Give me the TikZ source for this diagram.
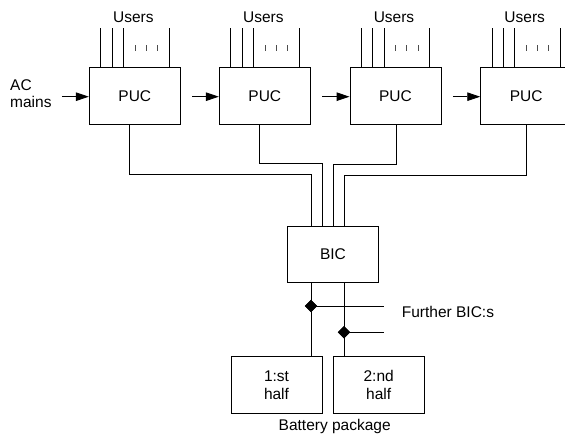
\documentclass[tikz,border=0pt]{standalone}
\usepackage{fontspec}
\setmainfont{Liberation Sans}
\usetikzlibrary{arrows.meta,shapes.geometric}
\begin{document}
\begin{tikzpicture}[x=1pt,y=-1pt,
  every node/.style={inner sep=0pt, font=\fontsize{15.5}{17.7}\selectfont},
  box/.style={draw, line width=0.9pt, minimum width=91pt, minimum height=56.6pt},
  wire/.style={line width=0.9pt},
  feed/.style={line width=0.9pt, -{Triangle[length=13pt,width=8.5pt]}},
  dia/.style={diamond, fill, inner sep=0pt, minimum width=12.5pt, minimum height=12.5pt},
  usertick/.style={line width=0.9pt, draw=black!70},
  lbl/.style={anchor=base}]
\useasboundingbox (0,0) rectangle (565,435);

% PUC boxes
\node[box] (puc1) at (134.8,96) {PUC};
\node[box] (puc2) at (264.8,96) {PUC};
\node[box] (puc3) at (395.5,96) {PUC};
\node[box] (puc4) at (526.2,96) {PUC};

% AC mains
\node[anchor=west, align=left] (ac) at (10,93.8) {AC\\mains};
\draw[feed] ([xshift=-27pt,yshift=-0.7pt]puc1.west) -- ([yshift=-0.7pt]puc1.west);
\draw[feed] ([xshift=11.4pt,yshift=-0.7pt]puc1.east) -- ([yshift=-0.7pt]puc2.west);
\draw[feed] ([xshift=11.4pt,yshift=-0.7pt]puc2.east) -- ([yshift=-0.7pt]puc3.west);
\draw[feed] ([xshift=11.4pt,yshift=-0.7pt]puc3.east) -- ([yshift=-0.7pt]puc4.west);

% Users
\foreach \p/\n in {puc1/u1,puc2/u2,puc3/u3,puc4/u4}{
  \foreach \dx in {-34.1,-22.8,-11.5,34.2}
    \draw[wire] ([xshift=\dx pt]\p.north) -- ++(0,-39.4);
  \foreach \dx in {0.2,11.2,22.5}
    \draw[usertick] ([xshift=\dx pt,yshift=16.7pt]\p.north) -- ++(0,-6);
  \node[lbl] (\n) at ([xshift=-1.5pt,yshift=45pt]\p.north) {Users};
}

% BIC
\node[box] (bic) at (333,254.3) {BIC};
\draw[wire] ([xshift=-5.5pt]puc1.south) -- ++(0,50) -| ([xshift=-22pt]bic.north);
\draw[wire] ([xshift=-5.5pt]puc2.south) -- ++(0,39) -| ([xshift=-11pt]bic.north);
\draw[wire] ([xshift=0.5pt]puc3.south) -- ++(0,39.7) -| ([xshift=0pt]bic.north);
\draw[wire] ([xshift=0.5pt]puc4.south) -- ++(0,50.7) -| ([xshift=11pt]bic.north);

% Battery
\node[box, align=center] (bat1) at (276.5,385) {1:st\\half};
\node[box, align=center] (bat2) at (378.7,385) {2:nd\\half};
\draw[wire] ([xshift=-22pt]bic.south) -- ([xshift=-22pt]bic.south |- bat1.north);
\draw[wire] ([xshift=11pt]bic.south) -- ([xshift=11pt]bic.south |- bat2.north);

\coordinate (f1) at (384.3,306);
\coordinate (f2) at (384.3,332.3);
\node[dia] (d1) at (311,306) {};
\node[dia] (d2) at (344,332.3) {};
\draw[wire] (d1.center) -- (f1);
\draw[wire] (d2.center) -- (f2);
\node[dia] at (d1) {};
\node[dia] at (d2) {};

\node[anchor=base west] (fb) at (401.7,317.7) {Further BIC:s};
\node[lbl] (bp) at (334.7,430.7) {Battery package};
\end{tikzpicture}
\end{document}
